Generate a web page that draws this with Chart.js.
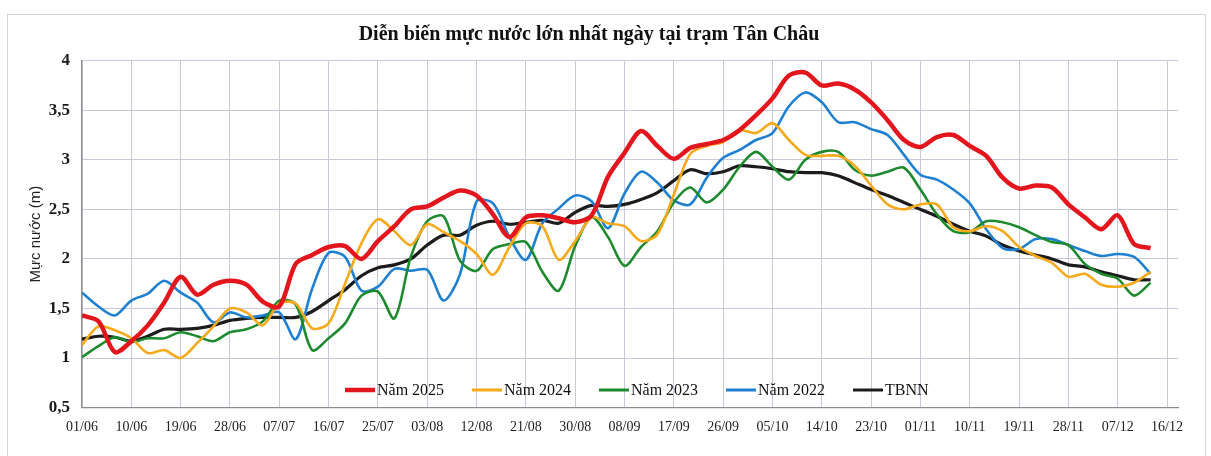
<!DOCTYPE html>
<html>
<head>
<meta charset="utf-8">
<script src="https://cdn.jsdelivr.net/npm/chart.js@4/dist/chart.umd.min.js"></script>
<style>
html,body{margin:0;padding:0;background:#fff;}
#wrap{width:1211px;height:456px;position:relative;}
</style>
</head>
<body>
<div id="wrap"><canvas id="c" width="1211" height="456"></canvas></div>
<script>
const dates = ['01/06','04/06','07/06','10/06','13/06','16/06','19/06','22/06','25/06','28/06','01/07',
  '04/07','07/07','10/07','13/07','16/07','19/07','22/07','25/07','28/07','31/07','03/08',
  '06/08','09/08','12/08','15/08','18/08','21/08','24/08','27/08','30/08','02/09','05/09',
  '08/09','11/09','14/09','17/09','20/09','23/09','26/09','29/09','02/10','05/10','08/10',
  '11/10','14/10','17/10','20/10','23/10','26/10','29/10','01/11','04/11','07/11','10/11',
  '13/11','16/11','19/11','22/11','25/11','28/11','01/12','04/12','07/12','10/12','13/12'];

const tickLabels = ['01/06','10/06','19/06','28/06','07/07','16/07','25/07','03/08','12/08','21/08','30/08',
  '08/09','17/09','26/09','05/10','14/10','23/10','01/11','10/11','19/11','28/11','07/12','16/12'];

const nam2025 = [1.43,1.37,1.06,1.17,1.33,1.56,1.82,1.64,1.74,1.78,1.74,
  1.57,1.52,1.95,2.04,2.12,2.13,2.00,2.18,2.33,2.50,2.53,
  2.62,2.69,2.64,2.45,2.22,2.42,2.44,2.41,2.37,2.44,2.83,
  3.07,3.29,3.14,3.01,3.12,3.16,3.20,3.30,3.45,3.62,3.85,
  3.88,3.75,3.77,3.71,3.58,3.40,3.20,3.13,3.23,3.25,3.14,
  3.04,2.82,2.71,2.74,2.72,2.55,2.42,2.30,2.44,2.15,2.11];

const nam2024 = [1.13,1.32,1.28,1.20,1.05,1.08,1.00,1.15,1.32,1.50,1.46,
  1.33,1.55,1.55,1.30,1.35,1.75,2.16,2.40,2.28,2.14,2.35,
  2.27,2.18,2.05,1.84,2.12,2.36,2.33,1.99,2.18,2.42,2.36,
  2.33,2.18,2.25,2.65,3.06,3.14,3.18,3.30,3.27,3.37,3.20,
  3.05,3.04,3.04,2.94,2.74,2.55,2.50,2.55,2.55,2.32,2.28,
  2.33,2.28,2.12,2.03,1.96,1.82,1.85,1.74,1.72,1.76,1.87];

const nam2023 = [1.01,1.12,1.21,1.16,1.20,1.20,1.26,1.22,1.17,1.26,1.29,
  1.37,1.58,1.54,1.08,1.20,1.35,1.63,1.67,1.40,2.02,2.38,
  2.43,1.98,1.88,2.10,2.15,2.17,1.87,1.68,2.13,2.42,2.22,
  1.93,2.12,2.28,2.57,2.72,2.57,2.70,2.93,3.08,2.93,2.80,
  3.00,3.08,3.08,2.90,2.84,2.88,2.92,2.70,2.45,2.28,2.27,
  2.38,2.37,2.32,2.24,2.17,2.14,1.95,1.85,1.80,1.63,1.76];

const nam2022 = [1.66,1.52,1.43,1.58,1.65,1.78,1.66,1.56,1.36,1.46,1.41,
  1.43,1.46,1.19,1.70,2.06,2.02,1.68,1.72,1.90,1.88,1.89,
  1.58,1.85,2.58,2.56,2.22,1.99,2.36,2.51,2.64,2.58,2.31,
  2.66,2.88,2.77,2.59,2.55,2.82,3.02,3.10,3.20,3.27,3.54,
  3.68,3.58,3.38,3.38,3.31,3.25,3.05,2.85,2.80,2.70,2.56,
  2.30,2.11,2.10,2.20,2.20,2.14,2.08,2.03,2.05,2.02,1.85];

const tbnn = [1.19,1.22,1.21,1.17,1.22,1.29,1.29,1.30,1.33,1.38,1.40,
  1.41,1.41,1.41,1.47,1.58,1.69,1.83,1.91,1.94,2.00,2.14,
  2.24,2.24,2.34,2.38,2.35,2.37,2.39,2.36,2.47,2.54,2.53,
  2.55,2.60,2.67,2.79,2.90,2.86,2.88,2.94,2.93,2.91,2.88,
  2.87,2.87,2.84,2.77,2.70,2.64,2.57,2.50,2.43,2.35,2.28,
  2.23,2.14,2.08,2.04,2.00,1.94,1.92,1.87,1.83,1.79,1.79];

const seriesNames = ['Năm 2025','Năm 2024','Năm 2023','Năm 2022','TBNN'];
const seriesColors = ['#e3161e','#f5a91b','#1d8a2e','#1f80d2','#1c1c1c'];
const seriesWidths = [4.5,2.6,2.6,2.6,3.2];

function dayOffset(s){
  const p = s.split('/').map(Number);
  return Math.round((Date.UTC(2025, p[1]-1, p[0]) - Date.UTC(2025, 5, 1)) / 86400000);
}
const tickMap = {};
tickLabels.forEach(l => { tickMap[dayOffset(l)] = l; });

function toPoints(arr){ return arr.map((v,i) => ({x: dayOffset(dates[i]), y: v})); }

const allSeries = [nam2025, nam2024, nam2023, nam2022, tbnn];
const datasets = allSeries.map((arr,i) => ({
  label: seriesNames[i],
  data: toPoints(arr),
  borderColor: seriesColors[i],
  backgroundColor: seriesColors[i],
  borderWidth: seriesWidths[i],
  pointRadius: 0,
  tension: 0.3,
  fill: false
}));

const framePlugin = {
  id: 'frame',
  beforeDraw(chart){
    const ctx = chart.ctx;
    ctx.save();
    ctx.fillStyle = '#fff';
    ctx.fillRect(0,0,chart.width,chart.height);
    ctx.strokeStyle = '#d6d6d6';
    ctx.lineWidth = 1;
    ctx.strokeRect(7.5, 14.5, 1198, 470);
    ctx.restore();
  }
};

const legendPlugin = {
  id: 'innerLegend',
  afterDatasetsDraw(chart){
    const ctx = chart.ctx;
    const ca = chart.chartArea;
    const y = 390;
    ctx.save();
    ctx.font = '16px "Liberation Serif", "Times New Roman", serif';
    ctx.textBaseline = 'middle';
    ctx.fillStyle = '#111';
    chart.data.datasets.forEach((ds, i) => {
      const x0 = ca.left + 263 + i * 127;
      ctx.strokeStyle = ds.borderColor;
      ctx.lineWidth = i === 0 ? 4.5 : 3;
      ctx.beginPath();
      ctx.moveTo(x0, y);
      ctx.lineTo(x0 + 30, y);
      ctx.stroke();
      ctx.fillText(ds.label, x0 + 32, y + 1);
    });
    ctx.restore();
  }
};

new Chart(document.getElementById('c'), {
  type: 'line',
  data: { datasets },
  plugins: [framePlugin, legendPlugin],
  options: {
    responsive: false,
    animation: false,
    layout: { padding: { left: 0, right: 33, top: 0, bottom: 0 } },
    plugins: {
      legend: { display: false },
      tooltip: { enabled: false },
      title: {
        display: true,
        text: 'Diễn biến mực nước lớn nhất ngày tại trạm Tân Châu',
        color: '#111',
        font: { family: '"Liberation Serif", "Times New Roman", serif', size: 20, weight: 'bold' },
        padding: { top: 23, bottom: 13.7 }
      }
    },
    scales: {
      x: {
        type: 'linear',
        min: 0,
        max: 200,
        afterBuildTicks(scale){
          scale.ticks = tickLabels.map(l => ({ value: dayOffset(l) }));
        },
        afterFit(scale){ scale.height = 48.4; },
        ticks: {
          autoSkip: false,
          maxRotation: 0,
          padding: 11,
          color: '#222',
          font: { family: '"Liberation Serif", "Times New Roman", serif', size: 14 },
          callback: (v) => tickMap[v] || ''
        },
        grid: { color: '#c8c8d8', lineWidth: 1, drawTicks: false },
        border: { display: true, color: '#8c8c8c', width: 1.3 }
      },
      y: {
        min: 0.5,
        max: 4,
        afterFit(scale){ scale.width = 82; },
        ticks: {
          stepSize: 0.5,
          padding: 12,
          color: '#1a1a1a',
          font: { family: '"Liberation Serif", "Times New Roman", serif', size: 17, weight: 'bold' },
          callback: (v) => String(v).replace('.', ',')
        },
        title: {
          display: true,
          text: 'Mực nước (m)',
          color: '#222',
          font: { family: '"Liberation Sans", Arial, sans-serif', size: 15 },
          padding: { top: 27, bottom: 0 }
        },
        grid: { color: '#c8c8d8', lineWidth: 1, drawTicks: false },
        border: { display: true, color: '#8c8c8c', width: 1.3 }
      }
    }
  }
});
</script>
</body>
</html>
